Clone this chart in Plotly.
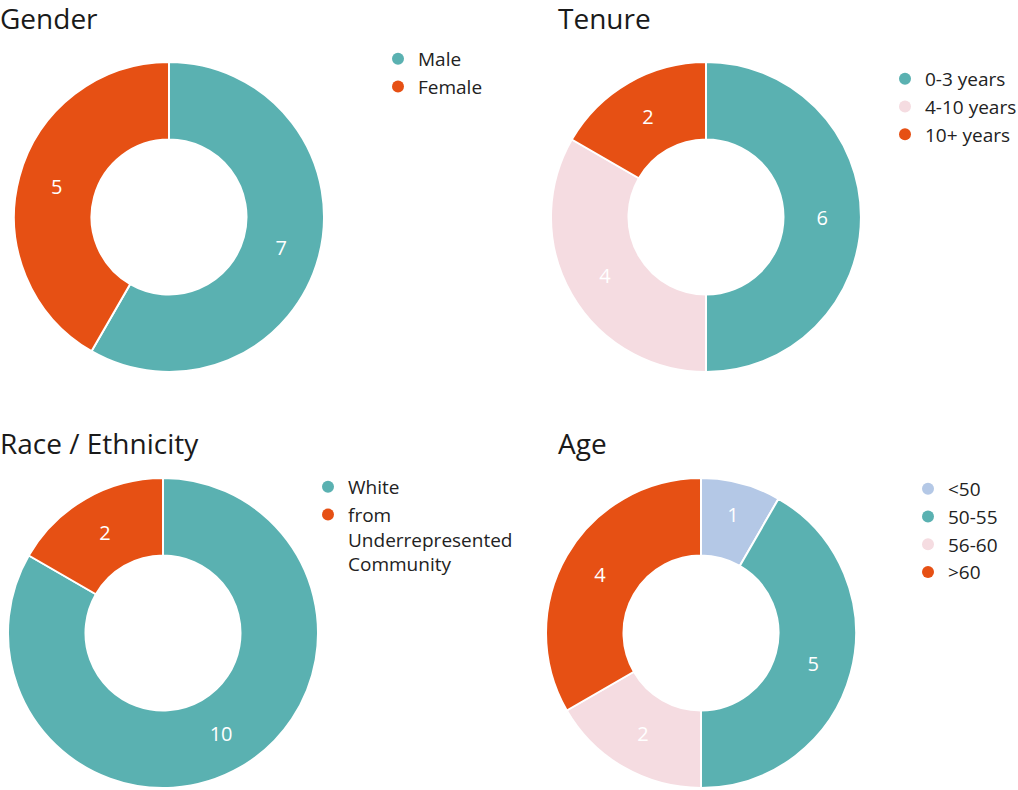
import plotly.graph_objects as go

W, H = 1018, 790

TEAL = "#5AB1B1"
ORANGE = "#E65014"
PINK = "#F5DCE1"
LBLUE = "#B4C8E6"

gender_labels = ["Male", "Female"]
gender_values = [7, 5]
gender_colors = [TEAL, ORANGE]

tenure_labels = ["0-3 years", "4-10 years", "10+ years"]
tenure_values = [6, 4, 2]
tenure_colors = [TEAL, PINK, ORANGE]

race_labels = ["White", "from<br>Underrepresented<br>Community"]
race_values = [10, 2]
race_colors = [TEAL, ORANGE]

age_labels = ["<50", "50-55", "56-60", ">60"]
age_values = [1, 5, 2, 4]
age_colors = [LBLUE, TEAL, PINK, ORANGE]

FONT = "Open Sans"
LEG_SIZE = 19

panels = [
    # title, labels, values, colors, center x/y (px), title x/y, legend x/y
    ("Gender", gender_labels, gender_values, gender_colors, 169, 217, -2, 18, 378, 40),
    ("Tenure", tenure_labels, tenure_values, tenure_colors, 706, 217, 556, 18, 885, 60),
    ("Race / Ethnicity", race_labels, race_values, race_colors, 163, 633, -2, 443, 308, 468),
    ("Age", age_labels, age_values, age_colors, 701, 633, 556, 443, 908, 470),
]

R = 155
fig = go.Figure()
annotations = []
layout_legends = {}
for i, (title, labels, values, colors, cx, cy, tx, ty, lx, ly) in enumerate(panels):
    lname = "legend" if i == 0 else f"legend{i+1}"
    fig.add_trace(go.Pie(
        labels=labels, values=values, hole=0.5, sort=False,
        direction="clockwise", rotation=0,
        marker=dict(colors=colors, line=dict(color="white", width=2)),
        textinfo="value", textposition="inside",
        insidetextorientation="horizontal",
        textfont=dict(family=FONT, size=20, color="white"),
        domain=dict(x=[(cx - R) / W, (cx + R) / W], y=[1 - (cy + R) / H, 1 - (cy - R) / H]),
        showlegend=False, hoverinfo="label+value",
    ))
    for j, (lab, col) in enumerate(zip(labels, colors)):
        fig.add_trace(go.Scatter(
            x=[None], y=[None], mode="markers", name=lab,
            marker=dict(symbol="circle", size=12, color=col),
            legend=lname, legendgroup=f"{lname}_{j}", showlegend=True,
        ))
    layout_legends[lname] = dict(
        xref="container", yref="container",
        x=lx / W, y=1 - ly / H, xanchor="left", yanchor="top",
        font=dict(family=FONT, size=LEG_SIZE, color="#222222"),
        bgcolor="rgba(0,0,0,0)", tracegroupgap=0, itemsizing="constant",
        valign="top",
    )
    annotations.append(dict(
        text=title, x=tx / W, y=1 - ty / H, xref="paper", yref="paper",
        xanchor="left", yanchor="middle", showarrow=False,
        font=dict(family=FONT, size=28, color="#1a1a1a"),
    ))

fig.update_layout(
    width=W, height=H,
    margin=dict(l=0, r=0, t=0, b=0, autoexpand=False),
    paper_bgcolor="white", plot_bgcolor="white",
    xaxis=dict(visible=False), yaxis=dict(visible=False),
    annotations=annotations,
    **layout_legends,
)

fig.write_html("out.html", config={"displayModeBar": False},
               post_script="document.body.style.margin='0';document.body.style.overflow='hidden';")
